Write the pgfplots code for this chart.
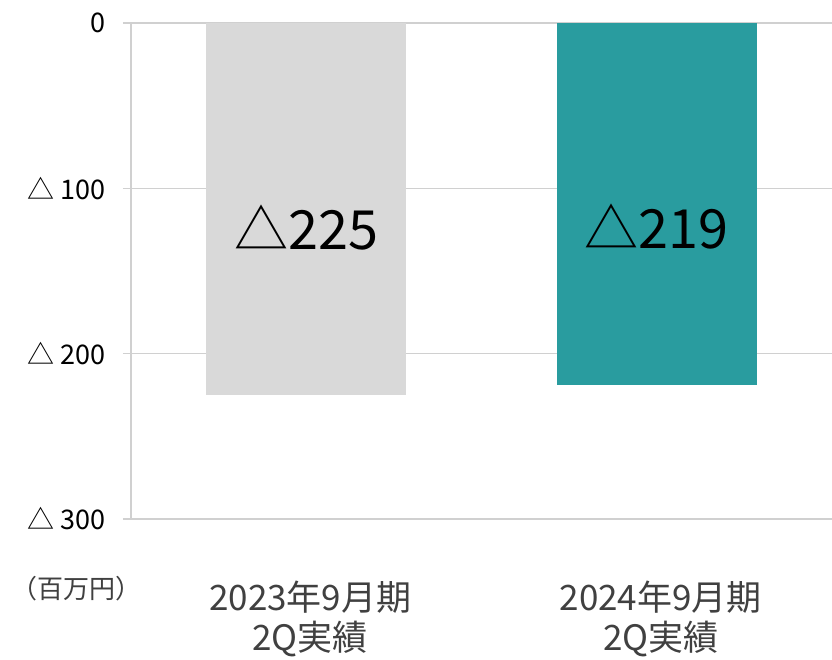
\documentclass[border=0pt]{standalone}
\usepackage{pgfplots}
\pgfplotsset{compat=1.18}
\usepackage{fontspec}
\setmainfont{Noto Sans CJK JP}
\definecolor{gridc}{HTML}{D0D0D0}
\definecolor{barg}{HTML}{D9D9D9}
\definecolor{bart}{HTML}{299C9F}
\definecolor{txt}{HTML}{404040}
\begin{document}
\begin{tikzpicture}
\begin{axis}[
  at={(0,0)}, anchor=south west,
  scale only axis, width=701pt, height=496pt,
  xmin=-0.5, xmax=1.5, ymin=-300, ymax=0,
  axis lines*=left, axis line style={gridc, line width=1.5pt, -},
  ytick={-300,-200,-100,0},
  yticklabels={△ 300, △ 200, △ 100, 0},
  xtick={0,1},
  xticklabels={{2023年9月期\\2Q実績},{2024年9月期\\2Q実績}},
  xticklabel style={align=center, text=txt, font=\fontsize{35}{40}\selectfont, yshift=-50pt, xshift=4pt},
  yticklabel style={text=black, font=\fontsize{27}{30}\selectfont, xshift=-14pt},
  tick align=outside, major tick length=8pt,
  ytick style={gridc, line width=1.5pt},
  xtick style={draw=none},
  ymajorgrids, grid style={gridc, line width=1.5pt},
  clip=false,
]
\addplot[ybar, bar width=200pt, bar shift=0pt, fill=barg, draw=none] coordinates {(0,-225)};
\addplot[ybar, bar width=200pt, bar shift=0pt, fill=bart, draw=none] coordinates {(1,-219)};
\node[font=\fontsize{54}{58}\selectfont, text=black] at (axis cs:0,-124) {△225};
\node[font=\fontsize{54}{58}\selectfont, text=black] at (axis cs:1,-123) {△219};
\end{axis}
\node[font=\fontsize{26}{28}\selectfont, text=txt] at (-54pt,-70pt) {（百万円）};
\pgfresetboundingbox
\useasboundingbox (-131pt,-140pt) rectangle (701pt,519pt);
\end{tikzpicture}
\end{document}
